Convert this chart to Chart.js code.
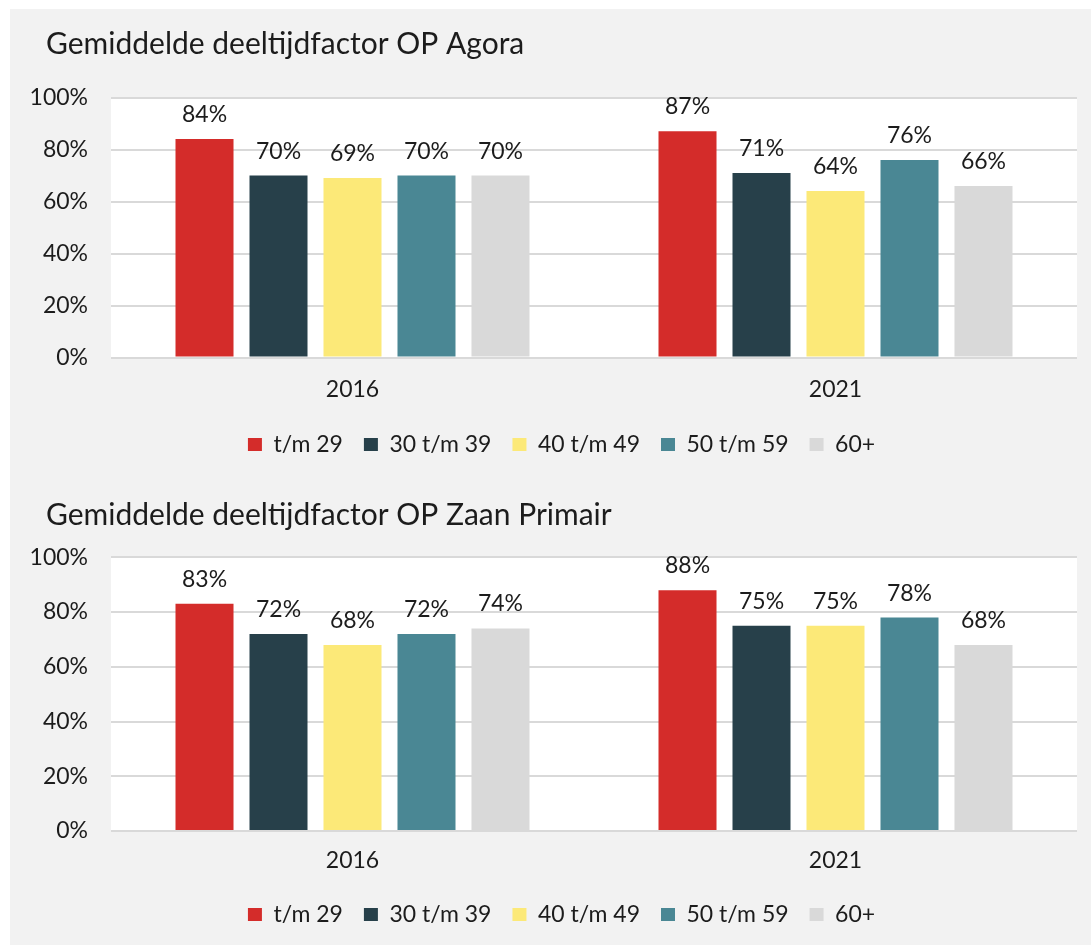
<!DOCTYPE html>
<html>
<head>
<meta charset="utf-8">
<script src="https://cdn.jsdelivr.net/npm/chart.js@4"></script>
<style>
    html, body { margin: 0; padding: 0; background: #ffffff; overflow: hidden; }
    #frame { position: absolute; left: 10px; top: 9px; width: 1081px; height: 940px; background: #f2f2f2; }
    .box { position: absolute; left: 10px; width: 1081px; }
    #box1 { top: 9px; height: 457px; }
    #box2 { top: 466px; height: 470px; }
</style>
</head>
<body>
<div id="frame"></div>
<div class="box" id="box1"><canvas id="chart-agora"></canvas></div>
<div class="box" id="box2"><canvas id="chart-zaan"></canvas></div>
<script>
/* ─────────────────────────────────────────
   DATA
───────────────────────────────────────── */
const categories = ['2016', '2021'];
const seriesLabels = ['t/m 29', '30 t/m 39', '40 t/m 49', '50 t/m 59', '60+'];
const seriesColors = ['#d42c2a', '#27404a', '#fce978', '#4a8794', '#d9d9d9'];
const yTicks = [0, 20, 40, 60, 80, 100];

// OP Agora
const agoraT29 = [84, 87];
const agora3039 = [70, 71];
const agora4049 = [69, 64];
const agora5059 = [70, 76];
const agora60 = [70, 66];

// OP Zaan Primair
const zaanT29 = [83, 88];
const zaan3039 = [72, 75];
const zaan4049 = [68, 75];
const zaan5059 = [72, 78];
const zaan60 = [74, 68];

/* ─────────────────────────────────────────
   HELPERS
───────────────────────────────────────── */
const FONT = 'Lato';
const TXT = '#1c1c1c';

// witte plotruimte
const plotBg = {
    id: 'plotBg',
    beforeDraw(chart) {
        const a = chart.chartArea;
        chart.ctx.save();
        chart.ctx.fillStyle = '#ffffff';
        chart.ctx.fillRect(a.left, a.top, a.right - a.left, a.bottom - a.top);
        chart.ctx.restore();
    }
};

// titel en legenda iets naar rechts, de y-as labels houden hun ruimte
const shiftBoxes = {
    id: 'shiftBoxes',
    afterLayout(chart) {
        chart.titleBlock.left += 22;
        chart.legend.left += 22;
    }
};

// percentages boven de staven
const barLabels = {
    id: 'barLabels',
    afterDatasetsDraw(chart) {
        const ctx = chart.ctx;
        ctx.save();
        ctx.font = '23px ' + FONT;
        ctx.fillStyle = TXT;
        ctx.textAlign = 'center';
        ctx.textBaseline = 'alphabetic';
        chart.data.datasets.forEach((ds, i) => {
            chart.getDatasetMeta(i).data.forEach((bar, j) => {
                ctx.fillText(Math.round(ds.data[j]) + '%', bar.x, bar.y - 17);
            });
        });
        ctx.restore();
    }
};

function makeChart(id, title, series, pad) {
    return new Chart(document.getElementById(id), {
        type: 'bar',
        data: {
            labels: categories,
            datasets: series.map((d, i) => ({
                label: seriesLabels[i],
                data: d,
                backgroundColor: seriesColors[i],
                borderWidth: 0,
                categoryPercentage: 0.766,
                barPercentage: 0.784,
            }))
        },
        options: {
            responsive: true,
            maintainAspectRatio: false,
            animation: false,
            layout: {padding: {left: 14, right: 14, top: 0, bottom: 0}},
            plugins: {
                title: {
                    display: true,
                    text: title,
                    align: 'start',
                    color: TXT,
                    font: {family: FONT, size: 30, weight: 'normal'},
                    padding: {top: pad.titleTop, bottom: pad.titleBottom},
                },
                legend: {
                    position: 'bottom',
                    labels: {
                        color: TXT,
                        font: {family: FONT, size: 23},
                        boxWidth: 14,
                        boxHeight: 13,
                        padding: 21,
                    }
                },
                tooltip: {enabled: false}
            },
            scales: {
                x: {
                    grid: {display: false, drawTicks: false},
                    border: {display: false},
                    ticks: {color: TXT, font: {family: FONT, size: 23}, padding: pad.tickPad},
                    afterFit: s => { s.height = pad.xHeight; }
                },
                y: {
                    min: 0,
                    max: 100,
                    afterBuildTicks: s => { s.ticks = yTicks.map(v => ({value: v})); },
                    grid: {color: '#d9d9d9', lineWidth: 2, drawTicks: false},
                    border: {display: false},
                    ticks: {
                        color: TXT,
                        font: {family: FONT, size: 23},
                        padding: 23,
                        callback: v => v + '%'
                    },
                    afterFit: s => { s.width = 87; }
                }
            }
        },
        plugins: [plotBg, shiftBoxes, barLabels]
    });
}

/* ─────────────────────────────────────────
   GRAFIEKEN
───────────────────────────────────────── */
makeChart('chart-agora', 'Gemiddelde deeltijdfactor OP Agora',
    [agoraT29, agora3039, agora4049, agora5059, agora60],
    {titleTop: 17, titleBottom: 35.5, tickPad: 18.7, xHeight: 54.5});

makeChart('chart-zaan', 'Gemiddelde deeltijdfactor OP Zaan Primair',
    [zaanT29, zaan3039, zaan4049, zaan5059, zaan60],
    {titleTop: 31, titleBottom: 24.3, tickPad: 16.2, xHeight: 51});
</script>
</body>
</html>
